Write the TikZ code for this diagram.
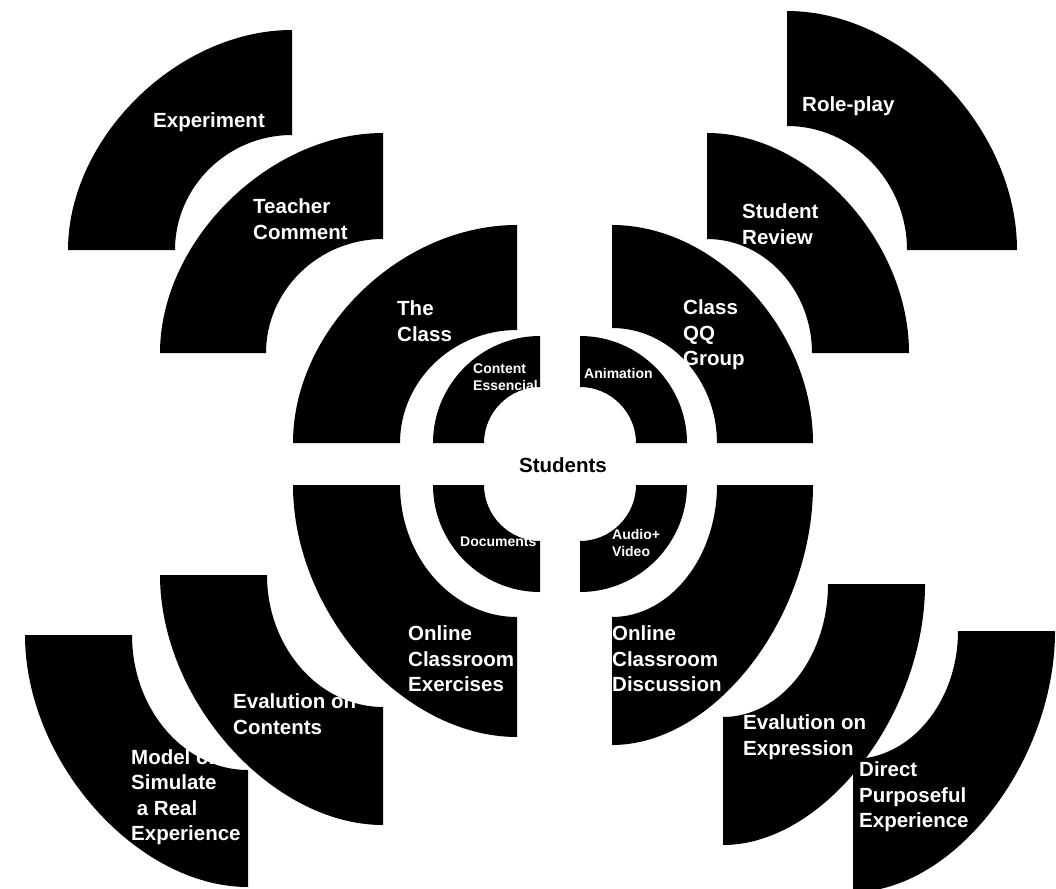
\documentclass[tikz,border=0pt]{standalone}
\usepackage{fontspec}
\setmainfont{Liberation Sans}

% one quarter of a ring: corner x, corner y, x sign, y sign,
% outer radii, inner radii, bend of the outer curve
\newcommand{\ringpart}[9]{%
  \fill[shift={(#1,#2)}] ({#3*#5},0)
    .. controls ({#3*#5},{#4*#9*#6}) and ({#3*#9*#5},{#4*#6}) .. (0,{#4*#6})
    -- (0,{#4*#8})
    .. controls ({#3*0.55*#7},{#4*#8}) and ({#3*#7},{#4*0.55*#8}) .. ({#3*#7},0)
    -- cycle;}

\tikzset{
  lbl/.style={text=white,font=\bfseries\fontsize{20.5}{25.5}\selectfont,
    align=left,inner sep=0pt,anchor=west},
  lblsmall/.style={lbl,font=\bfseries\fontsize{14}{16.5}\selectfont}
}

\begin{document}
\begin{tikzpicture}[x=1pt,y=1pt]
      \useasboundingbox (0,0) rectangle (1056,-888);

      % inner ring
      \ringpart{540}{-443}{-1}{1}{107}{107}{56}{56}{0.55}
      \ringpart{580}{-443}{1}{1}{107}{107}{56}{56}{0.55}
      \ringpart{540}{-485}{-1}{-1}{107}{107}{56}{56}{0.55}
      \ringpart{580}{-485}{1}{-1}{107}{107}{56}{56}{0.55}

      % middle ring
      \ringpart{517}{-443}{-1}{1}{224}{218}{117}{113}{0.52}
      \ringpart{612}{-443}{1}{1}{201}{218}{105}{115}{0.52}
      \ringpart{517}{-485}{-1}{-1}{224}{252}{117}{132}{0.51}
      \ringpart{612}{-485}{1}{-1}{201}{260}{105}{132}{0.51}

      % outer parts
      \ringpart{292}{-250}{-1}{1}{224}{220}{117}{115}{0.51}
      \ringpart{383}{-353}{-1}{1}{223}{220}{117}{114}{0.51}
      \ringpart{787}{-250}{1}{1}{230}{239}{120}{124}{0.51}
      \ringpart{707}{-353}{1}{1}{202}{220}{105}{114}{0.51}
      \ringpart{383}{-575}{-1}{-1}{223}{250}{116}{132}{0.5}
      \ringpart{248}{-635}{-1}{-1}{223}{252}{116}{135}{0.5}
      \ringpart{723}{-584}{1}{-1}{202}{261}{105}{133}{0.5}
      \ringpart{853}{-631}{1}{-1}{202}{261}{105}{128}{0.5}

      \node[font=\bfseries\fontsize{20.5}{25.5}\selectfont] (students) at (563,-465) {Students};

      \node[lblsmall] (content) at (473,-377) {Content\\Essencial};
      \node[lblsmall] (animation) at (584,-373) {Animation};
      \node[lblsmall] (documents) at (460,-542) {Documents};
      \node[lblsmall] (audio) at (612,-543) {Audio+\\Video};

      \node[lbl] (theclass) at (397,-321) {The\\Class};
      \node[lbl] (qqgroup) at (683,-335) {Class\\QQ\\Group};
      \node[lbl] (exercises) at (408,-659) {Online\\Classroom\\Exercises};
      \node[lbl] (discussion) at (612,-659) {Online\\Classroom\\Discussion};

      \node[lbl] (experiment) at (153,-122) {Experiment};
      \node[lbl] (teacher) at (253,-219) {Teacher\\Comment};
      \node[lbl] (roleplay) at (802,-106) {Role-play};
      \node[lbl] (review) at (742,-224) {Student\\Review};
      \node[lbl] (contents) at (233,-714) {Evalution on\\Contents};
      \node[lbl] (model) at (131,-797) {Model or\\Simulate\\\ a Real\\Experience};
      \node[lbl] (expression) at (743,-737) {Evalution on\\Expression};
      \node[lbl] (direct) at (859,-797) {Direct\\Purposeful\\Experience};
    \end{tikzpicture}
\end{document}
